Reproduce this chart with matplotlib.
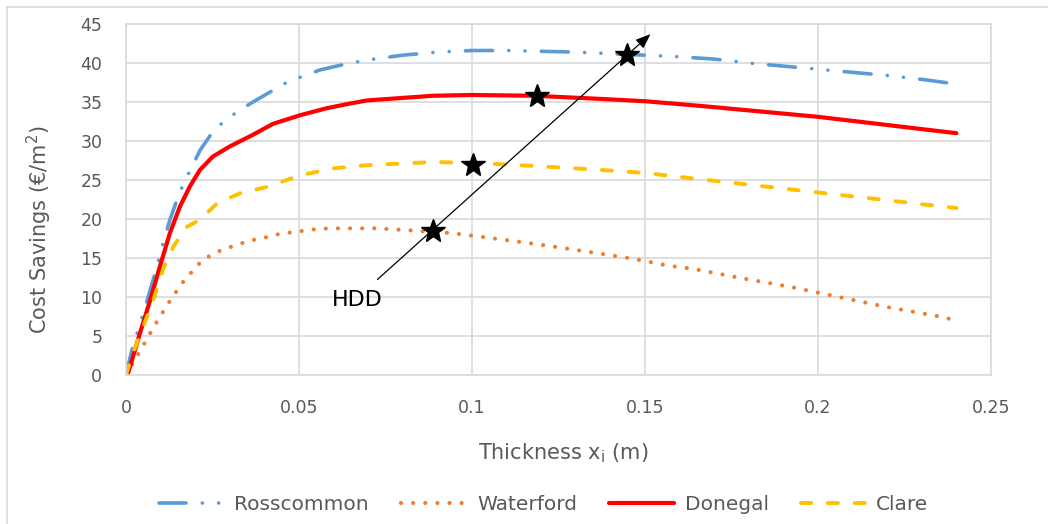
import matplotlib
matplotlib.use("Agg")
import matplotlib.pyplot as plt
from matplotlib.lines import Line2D

# thickness (m) and cost savings (EUR/m2)
x_ross = [0, 0.0017, 0.005, 0.0084, 0.0107, 0.0127, 0.0147, 0.0165, 0.0185, 0.0214,
          0.0248, 0.028, 0.032, 0.0367, 0.0425, 0.0468, 0.0512, 0.056, 0.0638, 0.07,
          0.08, 0.09, 0.1, 0.11, 0.12, 0.13, 0.14, 0.15, 0.16, 0.17, 0.18, 0.19,
          0.2, 0.21, 0.22, 0.23, 0.24]
y_ross = [0, 3.2, 7.9, 13.0, 16.9, 19.9, 22.4, 24.4, 26.2, 28.8,
          31.0, 32.4, 33.7, 35.0, 36.5, 37.6, 38.3, 39.1, 39.9, 40.4,
          41.0, 41.4, 41.6, 41.6, 41.5, 41.4, 41.2, 41.0, 40.8, 40.5, 40.0, 39.6,
          39.2, 38.8, 38.4, 37.9, 37.3]

x_water = [0, 0.002, 0.0037, 0.0054, 0.0072, 0.0089, 0.0107, 0.0127, 0.0147, 0.0168,
           0.019, 0.0214, 0.0243, 0.0275, 0.0309, 0.0342, 0.0376, 0.041, 0.0445, 0.048,
           0.0515, 0.055, 0.0587, 0.0622, 0.0728, 0.0835, 0.094, 0.1046, 0.115, 0.126,
           0.1364, 0.1466, 0.157, 0.164, 0.178, 0.192, 0.206, 0.22, 0.234, 0.24]
y_water = [0, 1.5, 2.8, 4.1, 5.5, 6.8, 8.1, 9.5, 10.8, 12.1,
           13.2, 14.4, 15.3, 16.0, 16.5, 17.0, 17.4, 17.7, 18.1, 18.3,
           18.5, 18.7, 18.8, 18.8, 18.8, 18.5, 18.2, 17.6, 17.0, 16.3,
           15.6, 14.9, 14.0, 13.6, 12.4, 11.3, 10.0, 8.7, 7.6, 7.0]

x_done = [0, 0.0006, 0.004, 0.007, 0.0098, 0.0127, 0.0156, 0.0185, 0.0214, 0.0251,
          0.03, 0.0367, 0.0425, 0.0503, 0.058, 0.0647, 0.0697, 0.0888, 0.1, 0.118,
          0.137, 0.15, 0.166, 0.2, 0.24]
y_done = [0, 0.2, 5.3, 9.6, 13.9, 18.2, 21.6, 24.2, 26.3, 28.0,
          29.3, 30.8, 32.2, 33.3, 34.2, 34.8, 35.2, 35.8, 35.9, 35.8,
          35.4, 35.1, 34.5, 33.1, 31.0]

x_clare = [0, 0.002, 0.005, 0.0079, 0.0107, 0.0136, 0.0176, 0.0214, 0.0263, 0.033,
           0.0407, 0.0503, 0.06, 0.0697, 0.0888, 0.1, 0.118, 0.137, 0.15, 0.2, 0.24]
y_clare = [0, 2.8, 6.2, 9.6, 13.5, 16.4, 19.0, 19.9, 22.0, 23.3,
           24.1, 25.6, 26.5, 26.9, 27.3, 27.2, 26.8, 26.3, 25.9, 23.4, 21.4]

# optimum points marked with stars
star_x = [0.0888, 0.1004, 0.1187, 0.1449]
star_y = [18.4, 26.9, 35.8, 41.0]

plt.rcParams['font.family'] = ['DejaVu Sans']
grey = '#595959'

fig = plt.figure(figsize=(10.48, 5.24), dpi=100)
ax = fig.add_axes([0.1202, 0.2844, 0.8254, 0.6698])

ax.plot(x_ross, y_ross, color='#5B9BD5', lw=2.6, dash_capstyle='round',
        dashes=(7.5, 4.5, 0.01, 4.5, 0.01, 4.5), label='Rosscommon')
ax.plot(x_water, y_water, color='#ED7D31', lw=3.0, dash_capstyle='round',
        dashes=(0.01, 2.9), label='Waterford')
ax.plot(x_done, y_done, color='#FF0000', lw=3.0, solid_capstyle='round',
        label='Donegal')
ax.plot(x_clare, y_clare, color='#FFC000', lw=2.8, dash_capstyle='round',
        dashes=(2.6, 4.3), label='Clare')

ax.plot(star_x, star_y, ls='none', marker='*', ms=18, color='black', zorder=5)

ax.annotate('', xy=(0.1516, 43.7), xytext=(0.0727, 12.25),
            arrowprops=dict(arrowstyle='-|>,head_length=0.9,head_width=0.35',
                            color='black', lw=0.9, shrinkA=0, shrinkB=0), zorder=6)
ax.text(0.0668, 9.6, 'HDD', fontsize=16, color='black', ha='center', va='center')

ax.set_xlim(0, 0.25)
ax.set_ylim(0, 45)
ax.set_xticks([0, 0.05, 0.1, 0.15, 0.2, 0.25])
ax.set_xticklabels(['0', '0.05', '0.1', '0.15', '0.2', '0.25'])
ax.set_yticks(range(0, 46, 5))
ax.grid(True, color='#D9D9D9', lw=1.2)
ax.set_axisbelow(True)
for s in ax.spines.values():
    s.set_color('#D9D9D9')
    s.set_linewidth(1.2)
ax.tick_params(length=0, labelsize=12.5, labelcolor=grey, pad=17)

ax.set_xlabel('Thickness x$_\\mathregular{i}$ (m)', fontsize=15, color=grey)
ax.set_ylabel('Cost Savings (€/m$^\\mathregular{2}$)', fontsize=15, color=grey)
ax.xaxis.set_label_coords(0.506, -0.19)
ax.yaxis.set_label_coords(-0.083, 0.413)

ax.legend(loc='upper center', bbox_to_anchor=(0.483, -0.29), ncol=4, frameon=False,
          fontsize=14.5, labelcolor=grey, handlelength=3.2, columnspacing=1.6,
          handletextpad=0.55)

# outer chart frame (top and left edges visible)
fig.add_artist(Line2D([7 / 1048, 1], [1 - 7 / 524, 1 - 7 / 524], color='#D9D9D9', lw=1.2))
fig.add_artist(Line2D([7 / 1048, 7 / 1048], [0, 1 - 7 / 524], color='#D9D9D9', lw=1.2))

fig.savefig('out.png', dpi=100)
